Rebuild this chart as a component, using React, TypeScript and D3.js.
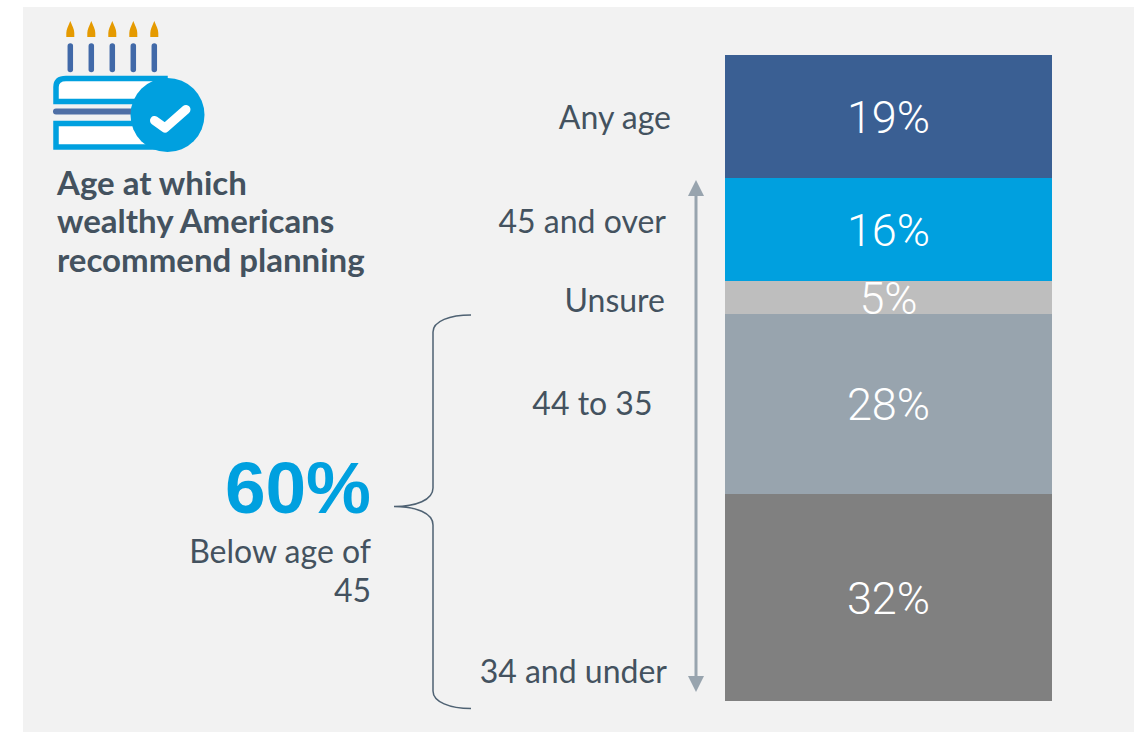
import React from "react";
import * as d3 from "d3";

const bands = ["34 and under", "44 to 35", "Unsure", "45 and over", "Any age"];
const shares = [32, 28, 5, 16, 19];
const bandColors = ["#808080", "#98A4AE", "#BEBEBE", "#00A0DF", "#3A5F93"];
const bandLabelAnchors = [667, 652.5, 665, 666, 671];
const bandLabelBaselines = [682.5, 415, 312, 232.5, 128.5];
const titleLines = ["Age at which", "wealthy Americans", "recommend planning"];
const candleSlots = [0, 1, 2, 3, 4];

const ink = "#44525F";
const textFont = "Lato, 'Open Sans', sans-serif";
const numberFont = "Roboto, sans-serif";

export default function App() {
  const y = d3.scaleLinear().domain([0, 100]).range([701, 55.4]);
  const tops = Array.from(d3.cumsum(shares));
  const segments = shares.map((v, i) => ({ start: tops[i] - v, end: tops[i] }));
  const candleX = d3.scaleLinear().domain([0, 4]).range([70.3, 154.3]);

  return (
    <svg width={1134} height={732} style={{ position: "absolute", left: 0, top: 0, background: "#fff" }}>
      <rect x={23} y={7} width={1111} height={725} fill="#F2F2F2" />

      {/* cake icon */}
      <g>
        {candleSlots.map((i) => (
          <g key={i} transform={`translate(${candleX(i)},0)`}>
            <path d="M0,21 C2,26 4,29 4,33 L4,37 L-4,37 L-4,33 C-4,29 -2,26 0,21 Z" fill="#E59A00" />
            <line x1={0} x2={0} y1={46} y2={69.5} stroke="#4169A8" strokeWidth={5.5} strokeLinecap="round" />
          </g>
        ))}
        <path d="M56,101.500 L56,87 Q56,78.500 66,78.500 L165,78.500 L165,101.500 Z" fill="#fff" stroke="#00A0DF" strokeWidth={5.5} />
        <line x1={56} x2={140} y1={111.5} y2={111.5} stroke="#4F6FA5" strokeWidth={6} strokeLinecap="round" />
        <rect x={56} y={123.5} width={110} height={23.5} fill="#fff" stroke="#00A0DF" strokeWidth={5.5} />
        <circle cx={167.5} cy={115} r={37} fill="#00A0DF" />
        <path d="M154.500,120.500 L165,128 L186,109.500" fill="none" stroke="#fff" strokeWidth={9} strokeLinecap="round" strokeLinejoin="round" />
      </g>

      <text fontFamily={textFont} fontWeight={700} fontSize={33} fill={ink}>
        {titleLines.map((line, i) => (
          <tspan key={line} x={57} y={194.5 + i * 38.5}>{line}</tspan>
        ))}
      </text>

      {/* stacked column */}
      {segments.map((s, i) => (
        <rect
          key={bands[i]}
          x={725}
          width={327}
          y={y(s.end)}
          height={y(s.start) - y(s.end)}
          fill={bandColors[i]}
          shapeRendering="crispEdges"
        />
      ))}
      {segments.map((s, i) => (
        <text
          key={bands[i]}
          x={888.5}
          y={(y(s.start) + y(s.end)) / 2 + 16}
          textAnchor="middle"
          fontFamily={numberFont}
          fontWeight={300}
          fontSize={45}
          fill="#fff"
        >
          {shares[i]}%
        </text>
      ))}

      {bands.map((b, i) => (
        <text key={b} x={bandLabelAnchors[i]} y={bandLabelBaselines[i]} textAnchor="end" fontFamily={textFont} fontSize={32} fill={ink}>
          {b}
        </text>
      ))}

      {/* double-headed range arrow */}
      <line x1={696} x2={696} y1={190} y2={680} stroke="#98A4AE" strokeWidth={3} />
      <path d="M696,180 L704,196 L688,196 Z" fill="#98A4AE" />
      <path d="M696,692 L704,676 L688,676 Z" fill="#98A4AE" />

      {/* brace spanning the under-45 bands */}
      <path
        d="M471,315 C450,315 433,321 433,332 L433,488 C433,500 416,506.500 394,506.500 C416,506.500 433,513 433,525 L433,691 C433,702 450,708.500 471,708.500"
        fill="none"
        stroke="#4F6273"
        strokeWidth={1.5}
      />

      <text x={371} y={513} textAnchor="end" fontFamily="'Liberation Sans', Arial, sans-serif" fontWeight={700} fontSize={73} fill="#00A0DF">
        60%
      </text>
      <text fontFamily={textFont} fontSize={32} fill={ink} textAnchor="end">
        <tspan x={371} y={562.5}>Below age of</tspan>
        <tspan x={371} y={601.5}>45</tspan>
      </text>
    </svg>
  );
}
